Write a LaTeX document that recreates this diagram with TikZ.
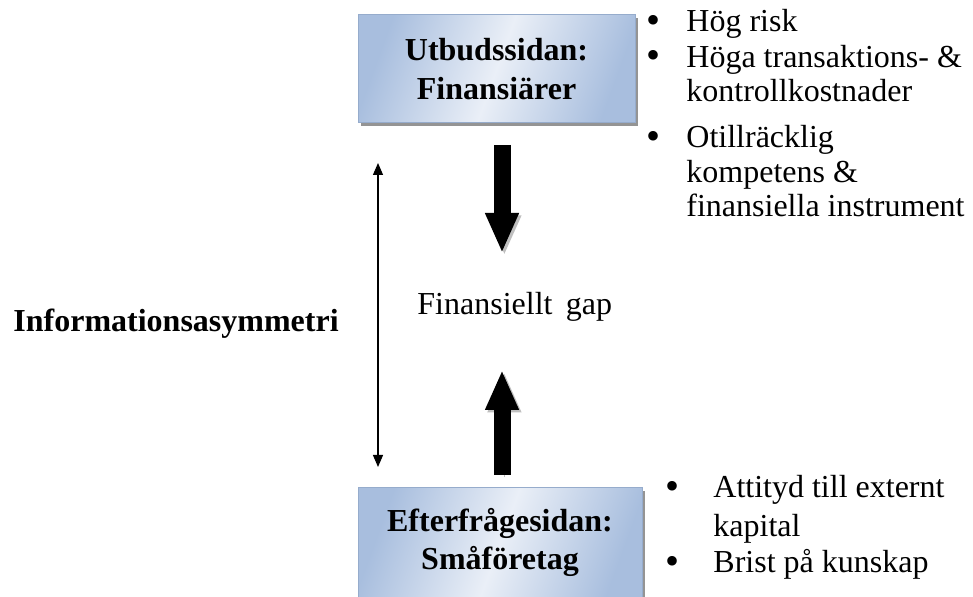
\documentclass[tikz,border=0pt]{standalone}
\usepackage{fontspec}
\setmainfont{Liberation Serif}
\usetikzlibrary{arrows.meta,shadows}

\definecolor{boxblue}{RGB}{168,190,222}
\definecolor{boxlight}{RGB}{234,239,247}
\definecolor{boxline}{RGB}{150,172,204}

\newcommand{\storpunkt}{\smash{\raisebox{-0.6pt}{\scalebox{1.25}{\textbullet}}}}

\tikzset{
  sidebox/.style={draw=boxline, line width=0.5pt, align=center,
    left color=boxblue, right color=boxblue, middle color=boxlight,
    shading angle=70, font=\fontsize{16}{19.25}\selectfont\bfseries,
    drop shadow={shadow xshift=1.6pt, shadow yshift=-1.6pt, fill=black!60, opacity=0.7}},
  bullettext/.style={anchor=base west, inner sep=0pt, align=left, font=\fontsize{16}{17.25}\selectfont},
  bulletdot/.style={anchor=base, inner sep=0pt, font=\fontsize{16}{17.25}\selectfont},
  bigarrow/.style={line width=8.5pt, -{Triangle[length=20pt,width=15.5pt]},
    preaction={draw=black!25, transform canvas={xshift=1.2pt,yshift=-1.2pt}}},
  thinarrow/.style={line width=0.6pt, {Triangle[length=6pt,width=5pt]}-{Triangle[length=6pt,width=5pt]}}
}

\begin{document}
\begin{tikzpicture}[x=0.5pt,y=-0.5pt]

\useasboundingbox (0,0) rectangle (973,597) ;

% lådorna

\node[sidebox, minimum width=138.5pt, minimum height=54pt] (utbud) at (496.5,69) {Utbudssidan:\\Finansiärer} ;
\node[sidebox, minimum width=142pt, minimum height=54.5pt] (efterfr) at (500,542.5) {Efterfrågesidan:\\Småföretag} ;

% pilarna

\coordinate (ned-a) at (502,145) ;
\coordinate (ned-b) at (502,253) ;
\coordinate (upp-a) at (502,475) ;
\coordinate (upp-b) at (502,370) ;

\draw[bigarrow] (ned-a) -- (ned-b) ;
\draw[bigarrow] (upp-a) -- (upp-b) ;

\coordinate (asym-a) at (378,163) ;
\coordinate (asym-b) at (378,467) ;

\draw[thinarrow] (asym-a) -- (asym-b) ;

% texter

\node[anchor=base west, inner sep=0pt, font=\fontsize{16}{19}\selectfont\bfseries] (asym) at (13,332) {Informationsasymmetri} ;
\node[anchor=base west, inner sep=0pt, font=\fontsize{16}{19}\selectfont] (gap) at (417,315) {Finansiellt\, gap} ;

% punkter utbudssidan (flerradiga noder sitter på sista radens baslinje)

\node[bulletdot] (pu1) at (653,32) {\storpunkt} ;
\node[bullettext] (tu1) at (686,32) {Hög risk} ;
\node[bulletdot] (pu2) at (653,67) {\storpunkt} ;
\node[bullettext] (tu2) at (686,102) {Höga transaktions- \&\\kontrollkostnader} ;
\node[bulletdot] (pu3) at (653,148) {\storpunkt} ;
\node[bullettext] (tu3) at (686,217) {Otillräcklig\\kompetens \&\\finansiella instrument} ;

% punkter efterfrågesidan

\node[bulletdot] (pe1) at (672,498) {\storpunkt} ;
\node[bullettext, font=\fontsize{16}{19.5}\selectfont] (te1) at (713,537) {Attityd till externt\\kapital} ;
\node[bulletdot] (pe2) at (672,573) {\storpunkt} ;
\node[bullettext] (te2) at (713,573) {Brist på kunskap} ;

\end{tikzpicture}
\end{document}
